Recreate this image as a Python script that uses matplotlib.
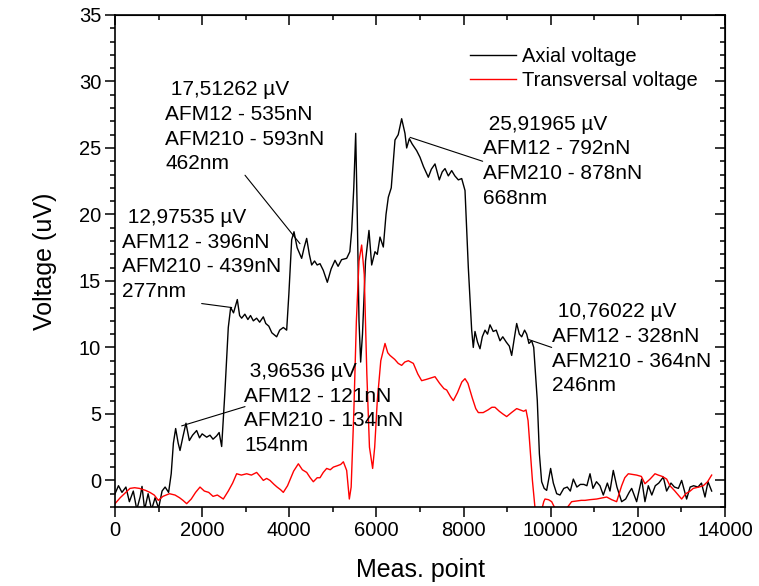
import matplotlib
matplotlib.use("Agg")
import matplotlib.pyplot as plt
from matplotlib.ticker import MultipleLocator

plt.rcParams['font.family'] = ['Liberation Sans', 'DejaVu Sans']

# Axial voltage (black)
axial_x = [0, 80, 160, 250, 330, 420, 500, 580, 620, 680, 760, 840, 920, 1000, 1080,
           1150, 1230, 1290, 1340, 1392, 1450, 1492, 1560, 1629, 1706, 1780, 1874, 1940,
           2000, 2104, 2180, 2250, 2333, 2390, 2448, 2520, 2600, 2655, 2720, 2807, 2860,
           2907, 2980, 3050, 3110, 3175, 3250, 3320, 3404, 3460, 3530, 3600, 3710, 3780,
           3863, 3940, 3990, 4055, 4108, 4180, 4284, 4340, 4399, 4460, 4514, 4580, 4640,
           4705, 4780, 4873, 4960, 5049, 5120, 5200, 5317, 5390, 5432, 5480, 5524, 5560,
           5600, 5638, 5680, 5750, 5829, 5891, 5967, 6020, 6082, 6158, 6220, 6273, 6340,
           6426, 6500, 6579, 6655, 6694, 6755, 6820, 6923, 7000, 7080, 7191, 7260, 7344,
           7443, 7510, 7574, 7650, 7727, 7800, 7880, 7957, 8033, 8109, 8186, 8223, 8262,
           8320, 8377, 8430, 8492, 8550, 8606, 8680, 8750, 8836, 8900, 8980, 9050, 9104,
           9160, 9219, 9280, 9334, 9400, 9449, 9500, 9563, 9610, 9650, 9692, 9740, 9792,
           9850, 9907, 9998, 10060, 10137, 10213, 10300, 10380, 10450, 10519, 10600, 10680,
           10760, 10830, 10902, 10970, 11050, 11130, 11207, 11300, 11360, 11436, 11520,
           11628, 11720, 11800, 11858, 11972, 12087, 12163, 12240, 12320, 12400, 12480,
           12584, 12660, 12760, 12840, 12930, 13005, 13119, 13200, 13280, 13380, 13460,
           13541, 13610, 13694]
axial_y = [-1.0, -0.4, -0.9, -0.5, -1.6, -0.8, -2.2, -1.2, -0.45, -2.2, -1.0, -2.2, -1.3,
           -2.1, -0.8, -0.5, -0.9, 0.5, 2.8, 3.9, 2.8, 2.25, 3.3, 4.3, 3.0, 3.4, 3.75, 3.2,
           3.5, 3.25, 3.4, 3.1, 3.35, 3.6, 2.55, 6.5, 11.5, 13.0, 12.6, 13.6, 12.4, 12.2,
           12.5, 12.1, 12.4, 12.0, 12.2, 11.9, 12.3, 11.8, 11.6, 11.1, 10.8, 11.3, 11.5,
           11.3, 14.0, 18.1, 18.7, 17.5, 16.7, 17.5, 18.2, 17.0, 16.2, 16.5, 16.2, 16.3,
           15.8, 14.9, 15.9, 16.55, 16.1, 16.6, 16.7, 17.2, 18.8, 22.0, 26.1, 20.0, 12.0,
           8.9, 11.0, 16.5, 18.8, 16.2, 17.2, 17.0, 18.3, 17.55, 20.0, 21.3, 22.0, 25.6,
           26.0, 27.2, 26.1, 25.0, 25.7, 25.3, 24.8, 24.3, 23.6, 22.8, 23.4, 23.8, 22.6,
           23.2, 23.45, 22.9, 23.3, 22.9, 22.6, 22.7, 21.8, 16.0, 11.3, 10.0, 11.2, 10.4,
           9.9, 10.8, 11.3, 11.0, 11.7, 11.2, 11.3, 10.5, 10.8, 10.4, 10.1, 9.4, 10.6, 11.8,
           11.0, 10.8, 11.3, 11.0, 10.3, 10.5, 10.0, 8.0, 6.0, 2.0, -0.1, -0.6, -0.75, 0.9,
           -0.2, -1.0, -1.1, -0.6, -0.5, -0.8, 0.1, -0.5, -0.3, -0.3, -0.4, 0.5, -0.6, -0.1,
           -0.4, -1.1, -0.2, -0.8, 0.75, -0.5, -1.6, -1.4, -0.9, -0.6, -1.6, 0.1, -1.6,
           -0.4, -1.1, -0.4, -0.2, 0.25, -0.8, -0.2, -0.5, -0.6, 0.0, -1.4, -0.5, -0.4,
           -0.5, -0.2, -1.25, -0.1, -0.8]

# Transversal voltage (red)
trans_x = [0, 120, 250, 344, 450, 560, 700, 800, 900, 994, 1100, 1250, 1377, 1480, 1560,
           1645, 1750, 1850, 1951, 2050, 2150, 2250, 2350, 2486, 2600, 2700, 2792, 2900,
           3022, 3130, 3251, 3330, 3404, 3480, 3557, 3650, 3720, 3800, 3863, 3960, 4100,
           4208, 4300, 4400, 4480, 4552, 4640, 4705, 4780, 4858, 4940, 5011, 5100, 5180,
           5241, 5317, 5378, 5420, 5480, 5540, 5600, 5661, 5720, 5780, 5840, 5913, 5960,
           6020, 6100, 6197, 6260, 6311, 6420, 6500, 6579, 6650, 6732, 6847, 6950, 7038,
           7150, 7250, 7344, 7450, 7550, 7612, 7700, 7765, 7860, 7960, 8033, 8100, 8200,
           8280, 8339, 8450, 8560, 8650, 8721, 8820, 8900, 8989, 9100, 9219, 9300, 9380,
           9433, 9480, 9525, 9580, 9640, 9700, 9780, 9840, 9869, 9950, 10022, 10098, 10137,
           10250, 10366, 10480, 10600, 10700, 10787, 10900, 11055, 11200, 11284, 11400,
           11513, 11628, 11700, 11781, 11880, 11972, 12080, 12163, 12280, 12393, 12469,
           12560, 12661, 12737, 12850, 13005, 13100, 13200, 13272, 13400, 13502, 13600,
           13694]
trans_y = [-1.75, -1.3, -0.9, -0.6, -0.55, -0.6, -0.75, -0.9, -1.1, -1.5, -1.2, -1.0, -1.1,
           -1.3, -1.5, -1.75, -1.4, -0.9, -0.5, -0.8, -0.9, -1.2, -1.1, -1.4, -0.8, -0.2,
           0.5, 0.4, 0.5, 0.4, 0.6, 0.3, 0.0, 0.15, 0.0, -0.3, -0.5, -0.7, -0.9, -0.4, 0.7,
           1.25, 0.8, 0.6, 0.2, -0.1, 0.2, 0.2, 0.6, 0.9, 0.8, 1.0, 1.1, 1.2, 1.4, 0.75,
           -1.4, -0.5, 5.0, 12.0, 16.5, 17.7, 15.5, 8.0, 2.5, 0.9, 2.5, 6.0, 9.0, 10.3, 9.6,
           9.4, 9.1, 8.8, 8.65, 8.9, 9.0, 8.8, 8.0, 7.5, 7.6, 7.7, 7.8, 7.3, 6.9, 6.8, 6.3,
           6.0, 6.6, 7.4, 7.65, 7.3, 6.2, 5.4, 5.1, 5.1, 5.3, 5.5, 5.5, 5.2, 5.0, 4.8, 5.1,
           5.4, 5.3, 5.2, 5.3, 4.5, 2.5, 0.0, -2.1, -2.6, -2.4, -1.6, -1.4, -1.45, -1.6,
           -2.1, -2.4, -2.4, -2.1, -1.6, -1.55, -1.5, -1.5, -1.45, -1.4, -1.3, -1.25, -1.45,
           -1.6, -0.4, 0.2, 0.5, 0.45, 0.4, 0.3, -0.25, 0.1, 0.5, 0.4, 0.3, 0.1, -0.4, -0.8,
           -1.4, -1.0, -0.8, -0.6, -0.5, -0.4, -0.1, 0.4]

# annotation boxes: text, text anchor (top-left), leader line start and end
notes = [" 17,51262 µV\nAFM12 - 535nN\nAFM210 - 593nN\n462nm",
         " 12,97535 µV\nAFM12 - 396nN\nAFM210 - 439nN\n277nm",
         " 3,96536 µV\nAFM12 - 121nN\nAFM210 - 134nN\n154nm",
         " 25,91965 µV\nAFM12 - 792nN\nAFM210 - 878nN\n668nm",
         " 10,76022 µV\nAFM12 - 328nN\nAFM210 - 364nN\n246nm"]
note_pos = [(1148, 30.1), (154, 20.5), (2961, 8.9), (8438, 27.5), (10036, 13.4)]
lead_from = [(2984, 22.95), (1989, 13.3), (2984, 5.55), (8438, 24.0), (10022, 10.0)]
lead_to = [(4246, 17.8), (2678, 13.0), (1530, 4.1), (6770, 25.8), (9487, 10.6)]

fig = plt.figure(figsize=(7.59, 5.86), dpi=100)
ax = fig.add_axes([115/759, 1 - 507/586, 610/759, 492/586])

ax.plot(axial_x, axial_y, color='black', lw=1.0, label='Axial voltage')
ax.plot(trans_x, trans_y, color='red', lw=1.0, label='Transversal voltage')

for txt, pos, p0, p1 in zip(notes, note_pos, lead_from, lead_to):
    ax.text(pos[0], pos[1], txt, fontsize=15, ha='left', va='top', linespacing=1.38)
    ax.annotate('', xy=p1, xytext=p0,
                arrowprops=dict(arrowstyle='-', color='black', lw=0.8,
                                shrinkA=0, shrinkB=0))

ax.set_xlim(0, 14000)
ax.set_ylim(-2, 35)
ax.xaxis.set_major_locator(MultipleLocator(2000))
ax.xaxis.set_minor_locator(MultipleLocator(1000))
ax.yaxis.set_major_locator(MultipleLocator(5))
ax.yaxis.set_minor_locator(MultipleLocator(1))
ax.tick_params(which='major', direction='out', length=7, width=1.1, labelsize=14.5, pad=3)
ax.tick_params(which='minor', direction='out', length=3.5, width=1.1)
for s in ax.spines.values():
    s.set_linewidth(1.2)

# mirrored ticks on top and right point inwards
top = ax.secondary_xaxis('top')
top.xaxis.set_major_locator(MultipleLocator(2000))
top.xaxis.set_minor_locator(MultipleLocator(1000))
top.tick_params(which='major', direction='in', length=7, width=1.1, labeltop=False)
top.tick_params(which='minor', direction='in', length=3.5, width=1.1)
right = ax.secondary_yaxis('right')
right.yaxis.set_major_locator(MultipleLocator(5))
right.yaxis.set_minor_locator(MultipleLocator(1))
right.tick_params(which='major', direction='in', length=7, width=1.1, labelright=False)
right.tick_params(which='minor', direction='in', length=3.5, width=1.1)

ax.set_xlabel('Meas. point', fontsize=18, labelpad=13)
ax.set_ylabel('Voltage (uV)', fontsize=18, labelpad=16)

ax.legend(loc='upper left', bbox_to_anchor=(0.582, 0.935), frameon=False,
          fontsize=14.5, handlelength=2.3, handletextpad=0.3, labelspacing=0.25,
          borderpad=0, borderaxespad=0)

fig.savefig('out.png', dpi=100)
